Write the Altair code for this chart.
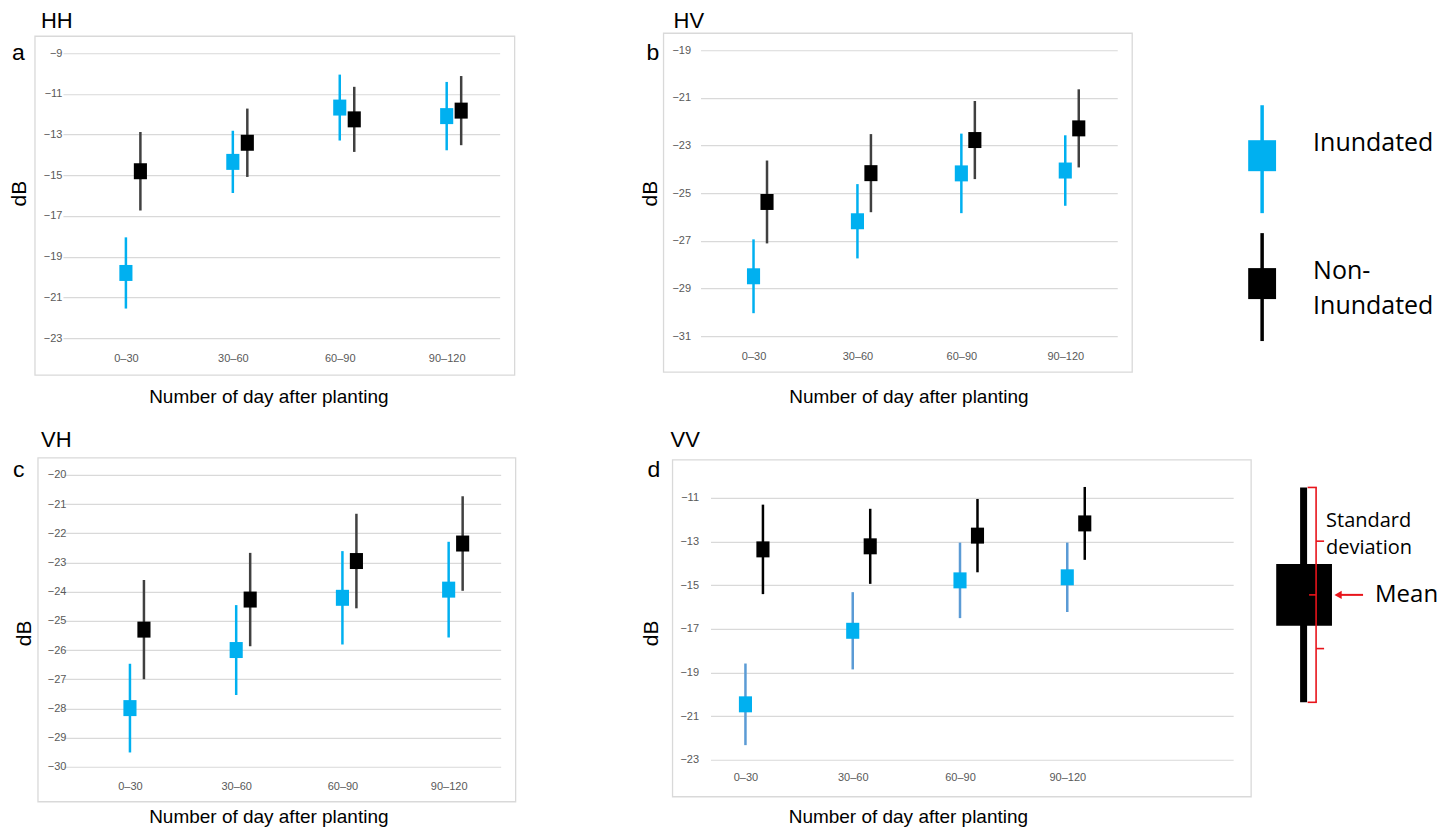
import altair as alt
import pandas as pd

# ---------------- data ----------------
categories = ["0–30", "30–60", "60–90", "90–120"]
series = ["Inundated", "Non-Inundated"]
legend_labels = ["Inundated", "Non-\nInundated"]

hh_inundated_mean = [-19.80, -14.34, -11.67, -12.09]
hh_inundated_sd = [1.75, 1.53, 1.62, 1.68]
hh_non_inundated_mean = [-14.80, -13.40, -12.25, -11.82]
hh_non_inundated_sd = [1.93, 1.68, 1.60, 1.70]

hv_inundated_mean = [-28.49, -26.18, -24.17, -24.05]
hv_inundated_sd = [1.55, 1.56, 1.67, 1.48]
hv_non_inundated_mean = [-25.37, -24.16, -22.77, -22.28]
hv_non_inundated_sd = [1.74, 1.64, 1.64, 1.64]

vh_inundated_mean = [-27.99, -26.00, -24.21, -23.93]
vh_inundated_sd = [1.52, 1.54, 1.60, 1.64]
vh_non_inundated_mean = [-25.30, -24.27, -22.95, -22.35]
vh_non_inundated_sd = [1.70, 1.60, 1.62, 1.62]

vv_inundated_mean = [-20.46, -17.09, -14.78, -14.64]
vv_inundated_sd = [1.87, 1.77, 1.73, 1.59]
vv_non_inundated_mean = [-13.36, -13.22, -12.73, -12.17]
vv_non_inundated_sd = [2.05, 1.72, 1.68, 1.67]

hh_ticks = [-23, -21, -19, -17, -15, -13, -11, -9]
hv_ticks = [-31, -29, -27, -25, -23, -21, -19]
vh_ticks = [-30, -29, -28, -27, -26, -25, -24, -23, -22, -21, -20]
vv_ticks = [-23, -21, -19, -17, -15, -13, -11]

schematic_mean = [0.0]
schematic_sd = [1.0]

# ---------------- styles ----------------
FONT = "Liberation Sans, Arial, sans-serif"
LEGEND_FONT = "Open Sans, Noto Sans, sans-serif"
CYAN = "#00B0F0"
RECT = "M-0.82,-1H0.82V1H-0.82Z"
LEG_RECT = "M-0.9,-1H0.9V1H-0.9Z"
one = pd.DataFrame({"k": [0]})


def box(x1, x2, y1, y2, **kw):
    return alt.Chart(one).mark_rect(**kw).encode(
        x=alt.value(x1), x2=alt.value(x2), y=alt.value(y1), y2=alt.value(y2)
    )


def label(txt, x, y, size, font=FONT, **kw):
    return alt.Chart(one).mark_text(
        text=txt, align="left", baseline="alphabetic", fontSize=size,
        font=font, color="black", **kw
    ).encode(x=alt.value(x), y=alt.value(y))


def panel(name, letter, im, isd, nm, nsd, ticks, c):
    rows = []
    for s, means, sds in (("Inundated", im, isd), ("Non-Inundated", nm, nsd)):
        for cat, m, sd in zip(categories, means, sds):
            rows.append({"period": cat, "series": s, "mean": m, "sd": sd})
    df = pd.DataFrame(rows)
    base = alt.Chart(df).transform_calculate(
        lo="datum.mean - datum.sd", hi="datum.mean + datum.sd"
    )
    xscale = alt.Scale(type="point", domain=categories,
                       padding=c["pad"], align=c["align"])
    yscale = alt.Scale(domain=c["domain"], nice=False, zero=False)
    xaxis = alt.Axis(
        title="Number of day after planting", labelAngle=0, labelFont=FONT,
        labelFontSize=11, labelColor="#595959", labelPadding=c["xlp"],
        domain=False, ticks=False, tickSize=0, grid=False,
        titleFont=FONT, titleFontSize=19, titleFontWeight="normal",
        titleColor="black", titleX=c["xtx"], titleY=c["xty"],
        titleAlign="center", titleBaseline="alphabetic",
    )
    yaxis = alt.Axis(
        title="dB", values=ticks, format="d", labelFont=FONT,
        labelFontSize=11, labelColor="#595959", labelPadding=c["ylp"],
        domain=False, ticks=False, tickSize=0, grid=True,
        gridColor="#D9D9D9", gridWidth=1.2, offset=c.get("yoff", 0),
        titleFont=FONT, titleFontSize=21, titleFontWeight="normal",
        titleColor="black", titleX=c["ytx"], titleY=c["yty"],
        titleAngle=270, titleAlign="center", titleBaseline="middle",
    )
    X = alt.X("period:N", scale=xscale, axis=xaxis, sort=categories)
    inund = base.transform_filter(alt.datum.series == "Inundated")
    non = base.transform_filter(alt.datum.series == "Non-Inundated")
    layers = [
        box(*c["tile"], opacity=0),
        box(*c["frame"], fill="transparent", stroke="#D9D9D9", strokeWidth=1.3),
        inund.mark_rule(strokeWidth=2.5, color=c["in_bar"]).encode(
            x=X, y=alt.Y("lo:Q", scale=yscale, axis=yaxis), y2="hi:Q"),
        non.mark_rule(strokeWidth=2.5, color=c["non_bar"], xOffset=c["off"]).encode(
            x=X, y=alt.Y("lo:Q", scale=yscale, axis=yaxis), y2="hi:Q"),
        inund.mark_point(shape=RECT, filled=True, size=256, opacity=1,
                         strokeWidth=0, color=CYAN).encode(
            x=X, y=alt.Y("mean:Q", scale=yscale, axis=yaxis)),
        non.mark_point(shape=RECT, filled=True, size=256, opacity=1,
                       strokeWidth=0, color="black", xOffset=c["off"]).encode(
            x=X, y=alt.Y("mean:Q", scale=yscale, axis=yaxis)),
        label(name, c["tx"][0], c["tx"][1], 22),
        label(letter, c["lx"][0], c["lx"][1], 23),
    ]
    return alt.layer(*layers).properties(width=c["w"], height=c["h"])


A = panel("HH", "a", hh_inundated_mean, hh_inundated_sd,
          hh_non_inundated_mean, hh_non_inundated_sd, hh_ticks, dict(
              w=437, h=288, domain=[-23, -8.853], pad=0.542, align=0.543,
              off=14.5, xlp=14, xtx=205.5, xty=64, ylp=1, ytx=-43.5, yty=143,
              tile=(-54, 528, -42, 365), frame=(-28, 452, -14, 325),
              tx=(-22, -22), lx=(-51, 10), in_bar=CYAN, non_bar="#404040"))
B = panel("HV", "b", hv_inundated_mean, hv_inundated_sd,
          hv_non_inundated_mean, hv_non_inundated_sd, hv_ticks, dict(
              w=417, h=286, domain=[-31, -19], pad=0.505, align=0.505,
              off=13.5, xlp=14, xtx=208, xty=66, ylp=10, ytx=-50.5, yty=143,
              tile=(-110, 490, -42, 365), frame=(-37, 432, -17, 322),
              tx=(-27, -22), lx=(-54, 10), in_bar=CYAN, non_bar="#404040"))
C = panel("VH", "c", vh_inundated_mean, vh_inundated_sd,
          vh_non_inundated_mean, vh_non_inundated_sd, vh_ticks, dict(
              w=438, h=292, domain=[-30, -20], pad=0.56, align=0.563,
              off=14, xlp=14, xtx=205.5, xty=56, ylp=2, yoff=-5, ytx=-43, yty=158,
              tile=(-54, 528, -60, 355), frame=(-25, 453, -17, 327),
              tx=(-22, -28), lx=(-50, 2), in_bar=CYAN, non_bar="#404040"))
D = panel("VV", "d", vv_inundated_mean, vv_inundated_sd,
          vv_non_inundated_mean, vv_non_inundated_sd, vv_ticks, dict(
              w=523, h=285, domain=[-23, -9.95], pad=0.936, align=0.174,
              off=17.5, xlp=12, xtx=197.5, xty=63, ylp=12, ytx=-59, yty=158,
              tile=(-120, 550, -60, 355), frame=(-38, 541, -15, 322),
              tx=(-40, -28), lx=(-63, 2), in_bar="#5B9BD5", non_bar="black"))

# ---------------- legend ----------------
leg_df = pd.DataFrame({"series": series, "label": legend_labels})
leg_y = alt.Y("series:N", scale=alt.Scale(type="point", domain=series,
                                          padding=0.672, align=0.6134), axis=None)
leg_color = alt.Color("series:N", scale=alt.Scale(domain=series, range=[CYAN, "black"]),
                      legend=None)
leg = alt.Chart(leg_df)
L = alt.layer(
    box(0, 251, -42, 365, opacity=0),
    leg.mark_tick(orient="vertical", thickness=3.5, size=108, yOffset=3.5,
                  opacity=1).encode(x=alt.value(72), y=leg_y, color=leg_color),
    leg.mark_point(shape=LEG_RECT, filled=True, size=961, opacity=1,
                   strokeWidth=0).encode(x=alt.value(72), y=leg_y, color=leg_color),
    leg.mark_text(align="left", baseline="alphabetic", lineBreak="\n",
                  lineHeight=35, fontSize=25, font=LEGEND_FONT, color="black",
                  dy=-4.5).encode(x=alt.value(123), y=leg_y, text="label:N"),
).properties(width=251, height=300)

# ---------------- schematic ----------------
sch = alt.Chart(pd.DataFrame({"mean": schematic_mean, "sd": schematic_sd})).transform_calculate(
    lo="datum.mean - datum.sd", hi="datum.mean + datum.sd",
    qlo="datum.mean - datum.sd / 2", qhi="datum.mean + datum.sd / 2",
)
sy = alt.Scale(domain=[-1.1163, 1.1163], nice=False, zero=False)
RED = "#E8141B"
S = alt.layer(
    box(0, 181, -60, 355, opacity=0),
    sch.mark_rule(strokeWidth=7, color="black").encode(
        x=alt.value(43.5), y=alt.Y("lo:Q", scale=sy, axis=None), y2="hi:Q"),
    sch.mark_point(shape="M-0.9,-1H0.9V1H-0.9Z", filled=True, size=3844, opacity=1,
                   strokeWidth=0, color="black").encode(
        x=alt.value(44), y=alt.Y("mean:Q", scale=sy, axis=None)),
    sch.mark_rule(strokeWidth=1.6, color=RED).encode(
        x=alt.value(56), y=alt.Y("lo:Q", scale=sy, axis=None), y2="hi:Q"),
    sch.mark_rule(strokeWidth=1.6, color=RED).encode(
        x=alt.value(47.5), x2=alt.value(56.8), y=alt.Y("hi:Q", scale=sy, axis=None)),
    sch.mark_rule(strokeWidth=1.6, color=RED).encode(
        x=alt.value(47.5), x2=alt.value(56.8), y=alt.Y("lo:Q", scale=sy, axis=None)),
    sch.mark_rule(strokeWidth=1.6, color=RED).encode(
        x=alt.value(49), x2=alt.value(56), y=alt.Y("mean:Q", scale=sy, axis=None)),
    sch.mark_rule(strokeWidth=1.6, color=RED).encode(
        x=alt.value(56), x2=alt.value(64), y=alt.Y("qhi:Q", scale=sy, axis=None)),
    sch.mark_rule(strokeWidth=1.6, color=RED).encode(
        x=alt.value(56), x2=alt.value(64), y=alt.Y("qlo:Q", scale=sy, axis=None)),
    sch.mark_rule(strokeWidth=2, color=RED).encode(
        x=alt.value(79), x2=alt.value(103), y=alt.Y("mean:Q", scale=sy, axis=None)),
    sch.mark_point(shape="triangle-left", filled=True, size=70, opacity=1,
                   strokeWidth=0, color=RED).encode(
        x=alt.value(78), y=alt.Y("mean:Q", scale=sy, axis=None)),
    sch.mark_text(text="Standard\ndeviation", lineBreak="\n", lineHeight=27,
                  align="left", baseline="alphabetic", fontSize=20,
                  font=LEGEND_FONT, color="black", dy=-14).encode(
        x=alt.value(66), y=alt.Y("qhi:Q", scale=sy, axis=None)),
    sch.mark_text(text="Mean", align="left", baseline="middle", fontSize=24,
                  font=LEGEND_FONT, color="black").encode(
        x=alt.value(115), y=alt.Y("mean:Q", scale=sy, axis=None)),
).properties(width=181, height=240)

row1 = alt.hconcat(A, B, L, spacing=0)
row2 = alt.hconcat(C, D, S, spacing=0)
chart = alt.vconcat(row1, row2, spacing=0).properties(padding=0).configure_view(stroke=None)

chart.save("out.html", embed_options={"renderer": "svg", "actions": False})
